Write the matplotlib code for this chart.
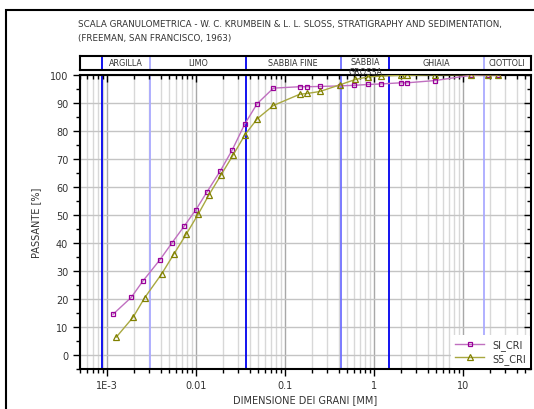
import numpy as np
import matplotlib
matplotlib.use("Agg")
import matplotlib.pyplot as plt
from matplotlib.ticker import LogLocator, FixedLocator, FixedFormatter, MultipleLocator
from matplotlib.patches import Rectangle

# grain size curves (diameter mm, % passing)
si_d = [1.17e-3, 1.87e-3, 2.52e-3, 3.94e-3, 5.37e-3, 7.33e-3, 0.0100, 0.01315, 0.01874,
        0.0256, 0.0352, 0.0485, 0.074, 0.146, 0.178, 0.245, 0.415, 0.594, 0.852, 1.2,
        1.99, 2.35, 4.8, 12.4, 19.1, 24.7]
si_p = [14.4, 20.4, 26.2, 33.9, 39.9, 45.8, 51.8, 57.9, 65.6, 73.2, 82.3, 89.6, 95.2,
        95.7, 95.7, 95.8, 96.0, 96.2, 96.5, 96.7, 97.1, 97.1, 97.9, 99.8, 100, 100]
s5_d = [1.27e-3, 1.96e-3, 2.65e-3, 4.11e-3, 5.66e-3, 7.73e-3, 0.0106, 0.014, 0.0192,
        0.026, 0.0356, 0.0489, 0.074, 0.146, 0.178, 0.247, 0.415, 0.617, 0.852, 1.21,
        2.0, 2.37, 4.8, 12.4, 19.1, 24.7]
s5_p = [6.2, 13.3, 20.3, 28.8, 36.0, 42.9, 50.2, 57.1, 64.3, 71.2, 78.6, 84.3, 89.0,
        93.0, 93.3, 94.0, 96.4, 98.3, 99.2, 99.5, 99.8, 99.8, 100, 100, 100, 100]

# class limits (mm) and names
limits = [8.85e-4, 3.04e-3, 0.0361, 0.423, 1.49, 17.2]
limit_colors = ['#0000ee', '#aaaaff', '#0000ee', '#7070ff', '#0000ee', '#aaaaff']
classes = ['ARGILLA', 'LIMO', 'SABBIA FINE', 'SABBIA\nGROSSA', 'GHIAIA', 'CIOTTOLI']

xticks = [1e-3, 1e-2, 1e-1, 1, 10]
xlabels = ['1E-3', '0.01', '0.1', '1', '10']
xmin, xmax = 4.97e-4, 57.3

W, H = 534, 410
fig = plt.figure(figsize=(W / 100, H / 100), dpi=100)

def box(l, t, r, b):
    return [l / W, 1 - b / H, (r - l) / W, (b - t) / H]

ax = fig.add_axes(box(80, 75.7, 530.5, 369.5))
ax.set_xscale('log')
ax.set_xlim(xmin, xmax)
ax.set_ylim(-5, 100)

# grid
ax.xaxis.set_minor_locator(LogLocator(base=10, subs=np.arange(2, 10)))
for d in range(-4, 2):
    for s in range(1, 10):
        x = s * 10.0 ** d
        if xmin < x < xmax:
            c = '#a8a8a8' if s == 1 else '#d8d8d8'
            ax.axvline(x, color=c, lw=1.0, zorder=0)
for y in range(0, 101, 10):
    ax.axhline(y, color='#c4c4c4', lw=1.0, zorder=0)

for x, c in zip(limits, limit_colors):
    ax.axvline(x, color=c, lw=1.3, zorder=1)

ax.plot(si_d, si_p, color='#c070c0', lw=1.0, marker='s', ms=3.5, mfc='none',
        mec='#990099', mew=0.9, label='SI_CRI', zorder=3)
ax.plot(s5_d, s5_p, color='#a8a840', lw=1.0, marker='^', ms=4, mfc='none',
        mec='#808000', mew=0.9, label='S5_CRI', zorder=3)

ax.xaxis.set_major_locator(FixedLocator(xticks))
ax.xaxis.set_major_formatter(FixedFormatter(xlabels))
ax.xaxis.set_minor_formatter(FixedFormatter([]))
ax.yaxis.set_major_locator(MultipleLocator(10))
ax.yaxis.set_minor_locator(MultipleLocator(5))
ax.set_yticks(range(0, 101, 10))
ax.tick_params(axis='both', which='both', direction='out', top=True, right=True,
               labelsize=7, labelcolor='#333333', width=1.0)
ax.tick_params(which='major', length=5)
ax.tick_params(which='minor', length=3)
ax.tick_params(axis='x', pad=3)
for t in ax.xaxis.get_major_ticks() + ax.xaxis.get_minor_ticks():
    t.tick2line.set_marker(3)
for t in ax.yaxis.get_major_ticks() + ax.yaxis.get_minor_ticks():
    t.tick2line.set_marker(0)
for sp in ax.spines.values():
    sp.set_linewidth(1.5)

ax.set_xlabel('DIMENSIONE DEI GRANI [MM]', fontsize=7, color='#333333', labelpad=3)
ax.set_ylabel('PASSANTE [%]', fontsize=7, color='#333333', labelpad=6)

leg = ax.legend(loc='lower right', frameon=True, fontsize=7, handlelength=3,
                borderaxespad=0.1, labelspacing=0.3)
leg.get_frame().set_edgecolor('none')
leg.get_frame().set_alpha(1)
for t in leg.get_texts():
    t.set_color('#333333')

# class table above the plot
tab = fig.add_axes(box(80, 57, 530.5, 70.5))
tab.set_zorder(3)
tab.set_xscale('log')
tab.set_xlim(xmin, xmax)
tab.set_ylim(0, 1)
tab.set_xticks([])
tab.set_yticks([])
tab.minorticks_off()
for sp in tab.spines.values():
    sp.set_linewidth(1.5)
for x, c in zip(limits, limit_colors):
    tab.axvline(x, color=c, lw=1.3)
edges = limits + [xmax]
for i, name in enumerate(classes):
    xc = np.sqrt(edges[i] * edges[i + 1])
    yc = 0.2 if '\n' in name else 0.5
    tab.text(xc, yc, name, ha='center', va='center', fontsize=5.8,
             color='#333333', linespacing=1.15, clip_on=False)

fig.text(78 / W, 1 - 25 / H,
         'SCALA GRANULOMETRICA - W. C. KRUMBEIN & L. L. SLOSS, STRATIGRAPHY AND SEDIMENTATION,',
         fontsize=6.3, color='#333333', va='center', ha='left')
fig.text(78 / W, 1 - 38 / H, '(FREEMAN, SAN FRANCISCO, 1963)',
         fontsize=6.3, color='#333333', va='center', ha='left')

fig.patches.append(Rectangle((6 / W, -0.1), 1.2, 1 - 11 / H + 0.1,
                             transform=fig.transFigure, fill=False, lw=1.5,
                             edgecolor='black'))

fig.savefig('out.png', dpi=100)
